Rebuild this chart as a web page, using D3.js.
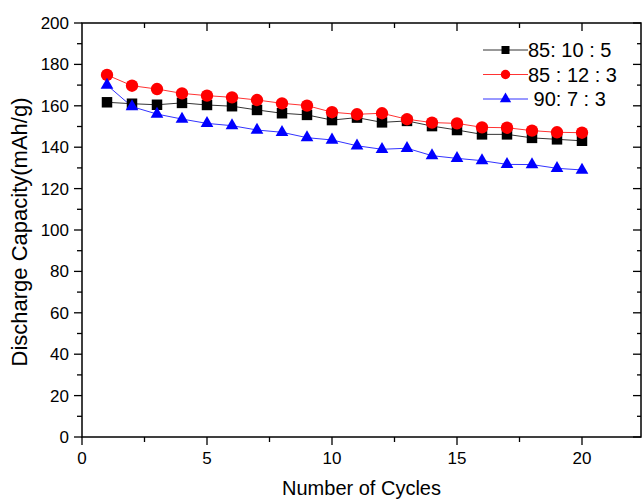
<!DOCTYPE html>
<html><head><meta charset="utf-8">
<script src="https://cdn.jsdelivr.net/npm/d3@7"></script>
<style>body{margin:0;background:#fff}svg{display:block}text{font-family:"Liberation Sans",Arial,sans-serif;fill:#000}</style>
</head><body><svg id="c" width="642" height="500"></svg>
<script>
const cycles = [1,2,3,4,5,6,7,8,9,10,11,12,13,14,15,16,17,18,19,20];
const s85_10_5 = [161.7,161.0,160.5,161.4,160.4,159.8,158.0,156.4,155.6,153.1,154.3,152.0,152.7,150.2,148.3,146.2,146.2,144.5,143.8,143.1];
const s85_12_3 = [174.9,169.7,168.1,166.0,164.9,164.1,162.8,161.2,160.1,156.9,155.9,156.4,153.5,151.9,151.5,149.6,149.4,148.0,147.2,147.0];
const s90_7_3  = [170.0,159.6,156.0,153.6,151.5,150.4,148.3,147.2,144.6,143.5,140.7,139.0,139.5,135.9,134.6,133.5,131.7,131.6,129.8,129.0];
const seriesNames = ["85: 10 : 5","85 : 12 : 3"," 90: 7 : 3"];
const xTickLabels = [0,5,10,15,20];
const yTickLabels = [0,20,40,60,80,100,120,140,160,180,200];
const xTitle = "Number of Cycles";
const yTitle = "Discharge Capacity(mAh/g)";

const svg = d3.select("#c");
const L = 82, R = 641, T = 23, B = 437;
const y = d3.scaleLinear().domain([0,200]).range([B,T]);
const x = d3.scaleLinear().domain([0,22.36]).range([L,R]);

// frame
svg.append("rect").attr("x",L).attr("y",T).attr("width",R-L).attr("height",B-T)
  .attr("fill","none").attr("stroke","#000").attr("stroke-width",1.5);

const g = svg.append("g");
d3.range(0,201,10).forEach(v=>{
  const major = v%20===0;
  g.append("line").attr("x1",L).attr("x2",L-(major?8:5)).attr("y1",y(v)).attr("y2",y(v)).attr("stroke","#000").attr("stroke-width",1.3);
  g.append("line").attr("x1",R).attr("x2",R-(major?8:4)).attr("y1",y(v)).attr("y2",y(v)).attr("stroke","#000").attr("stroke-width",1.3);
});
yTickLabels.forEach(v=>{
  g.append("text").attr("x",69).attr("y",y(v)+6).attr("text-anchor","end").attr("font-size",17).text(v);
});
d3.range(0,22.4,2.5).forEach(v=>{
  const major = v%5===0;
  g.append("line").attr("x1",x(v)).attr("x2",x(v)).attr("y1",B).attr("y2",B+(major?8:5)).attr("stroke","#000").attr("stroke-width",1.3);
  if (v>0) g.append("line").attr("x1",x(v)).attr("x2",x(v)).attr("y1",T).attr("y2",T+(major?8:5)).attr("stroke","#000").attr("stroke-width",1.3);
});
xTickLabels.forEach(v=>{
  g.append("text").attr("x",x(v)).attr("y",464).attr("text-anchor","middle").attr("font-size",17).text(v);
});

svg.append("text").attr("x",(L+R)/2).attr("y",495).attr("text-anchor","middle").attr("font-size",20).text(xTitle);
svg.append("text").attr("transform","translate(27,232) rotate(-90)").attr("text-anchor","middle").attr("font-size",22).text(yTitle);

const series = [
  {name:seriesNames[0], vals:s85_10_5, color:"#000", line:"#333", sym:d3.symbolSquare, size:110, lsize:64},
  {name:seriesNames[1], vals:s85_12_3, color:"#f00", line:"#f33", sym:d3.symbolCircle, size:120, lsize:70},
  {name:seriesNames[2], vals:s90_7_3,  color:"#00f", line:"#33f", sym:d3.symbolTriangle, size:70, lsize:56},
];
const lineGen = d3.line().x((d,i)=>x(cycles[i])).y(d=>y(d));
series.forEach(s=>{
  svg.append("path").attr("d",lineGen(s.vals)).attr("fill","none").attr("stroke",s.line).attr("stroke-width",1);
});
series.forEach(s=>{
  svg.append("g").selectAll("path").data(s.vals).join("path")
    .attr("transform",(d,i)=>`translate(${x(cycles[i])},${y(d)})`)
    .attr("d",d3.symbol().type(s.sym).size(s.size)()).attr("fill",s.color);
});
const rows = [50,74.5,99];
series.forEach((s,i)=>{
  const ly = rows[i];
  svg.append("line").attr("x1",483).attr("x2",528).attr("y1",ly).attr("y2",ly).attr("stroke",s.line).attr("stroke-width",1);
  svg.append("path").attr("transform",`translate(505.5,${ly})`).attr("d",d3.symbol().type(s.sym).size(s.lsize)()).attr("fill",s.color);
  svg.append("text").attr("x",528).attr("y",ly+7).attr("font-size",20).attr("xml:space","preserve").style("white-space","pre").text(s.name);
});
</script></body></html>
